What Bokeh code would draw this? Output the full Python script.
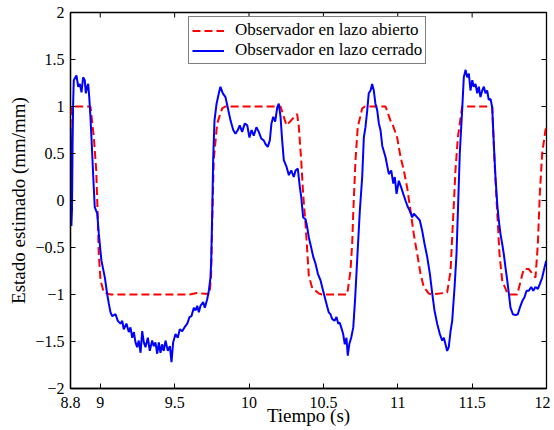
import math
from bokeh.plotting import figure
from bokeh.models import FixedTicker, Legend, LegendItem, Range1d
from bokeh.embed import file_html
from bokeh.resources import INLINE

# ---- data ----
x_ticks = [8.8, 9, 9.5, 10, 10.5, 11, 11.5, 12]
x_tick_labels = ["8.8", "9", "9.5", "10", "10.5", "11", "11.5", "12"]
y_ticks = [-2, -1.5, -1, -0.5, 0, 0.5, 1, 1.5, 2]
y_tick_labels = ["\u22122", "\u22121.5", "\u22121", "\u22120.5", "0", "0.5", "1", "1.5", "2"]

series_names = ["Observador en lazo abierto", "Observador en lazo cerrado"]

open_loop = [
    (8.800, 0.78), (8.805, 0.97), (8.810, 1.00), (8.934, 1.00), (8.957, 0.67),
    (8.973, 0.32), (8.984, -0.21), (8.990, -0.57), (9.002, -0.85), (9.024, -0.98),
    (9.070, -1.00), (9.600, -1.00), (9.650, -0.985), (9.735, -0.995), (9.745, -0.80),
    (9.752, -0.28), (9.763, 0.43), (9.786, 0.82), (9.820, 0.98), (9.840, 1.00),
    (10.212, 1.00), (10.252, 0.80), (10.324, 0.92), (10.335, 0.78), (10.351, 0.43),
    (10.364, 0.07), (10.380, -0.25), (10.391, -0.52), (10.402, -0.80), (10.425, -0.93),
    (10.470, -0.99), (10.490, -1.00), (10.660, -1.00), (10.682, -0.75), (10.694, -0.45),
    (10.701, -0.12), (10.716, 0.43), (10.731, 0.78), (10.761, 0.98), (10.780, 1.00),
    (10.918, 1.00), (10.951, 0.85), (10.963, 0.82), (10.996, 0.67), (11.019, 0.46),
    (11.041, 0.32), (11.063, 0.14), (11.086, -0.11), (11.108, -0.36), (11.131, -0.57),
    (11.153, -0.78), (11.175, -0.92), (11.209, -0.99), (11.230, -1.00), (11.332, -0.98),
    (11.355, -0.75), (11.366, -0.39), (11.377, -0.04), (11.388, 0.32), (11.404, 0.67),
    (11.433, 1.00), (11.635, 1.00), (11.650, 0.43), (11.668, -0.11), (11.684, -0.57),
    (11.702, -0.85), (11.740, -1.00), (11.803, -1.00), (11.847, -0.73), (11.881, -0.73),
    (11.926, -0.82), (11.942, -0.46), (11.955, 0.07), (11.971, 0.50), (11.993, 0.75),
    (12.000, 0.78),
]

closed_loop = [
    (8.800, 0.78), (8.803, 0.20), (8.806, -0.27), (8.810, -0.10), (8.814, 0.60),
    (8.818, 1.05), (8.822, 1.28), (8.840, 1.33), (8.852, 1.21), (8.863, 1.24),
    (8.874, 1.15), (8.885, 1.31), (8.896, 1.28), (8.903, 1.14), (8.912, 1.21),
    (8.919, 1.24), (8.926, 1.10), (8.934, 0.89), (8.943, 0.60), (8.953, 0.25),
    (8.963, -0.07), (8.980, -0.14), (8.990, -0.35), (9.008, -0.64), (9.031, -0.82),
    (9.047, -1.00), (9.058, -1.10), (9.069, -1.19), (9.080, -1.23), (9.103, -1.21),
    (9.118, -1.28), (9.136, -1.31), (9.148, -1.28), (9.158, -1.37), (9.176, -1.31),
    (9.192, -1.40), (9.203, -1.35), (9.215, -1.46), (9.226, -1.40), (9.237, -1.51),
    (9.248, -1.56), (9.259, -1.49), (9.271, -1.62), (9.282, -1.39), (9.293, -1.51),
    (9.304, -1.56), (9.320, -1.46), (9.333, -1.60), (9.349, -1.49), (9.360, -1.55),
    (9.371, -1.51), (9.383, -1.63), (9.394, -1.51), (9.405, -1.62), (9.416, -1.53),
    (9.427, -1.60), (9.439, -1.49), (9.454, -1.60), (9.468, -1.55), (9.479, -1.72),
    (9.490, -1.51), (9.506, -1.42), (9.521, -1.46), (9.535, -1.37), (9.551, -1.39),
    (9.566, -1.35), (9.585, -1.31), (9.600, -1.24), (9.613, -1.23), (9.629, -1.14),
    (9.640, -1.17), (9.652, -1.12), (9.663, -1.19), (9.674, -1.12), (9.692, -1.08),
    (9.703, -1.14), (9.719, -1.05), (9.730, -0.96), (9.741, -0.82), (9.746, -0.64),
    (9.753, -0.11), (9.759, 0.43), (9.768, 0.85), (9.782, 1.03), (9.797, 1.14),
    (9.808, 1.21), (9.824, 1.14), (9.842, 1.10), (9.857, 0.99), (9.876, 0.85),
    (9.894, 0.75), (9.909, 0.71), (9.925, 0.75), (9.938, 0.80), (9.954, 0.73),
    (9.972, 0.82), (9.988, 0.80), (10.003, 0.67), (10.017, 0.75), (10.032, 0.69),
    (10.050, 0.78), (10.066, 0.73), (10.082, 0.66), (10.099, 0.64), (10.111, 0.60),
    (10.126, 0.57), (10.140, 0.64), (10.151, 0.82), (10.163, 0.89), (10.176, 0.84),
    (10.190, 0.99), (10.200, 1.03), (10.212, 0.89), (10.223, 0.64), (10.234, 0.43),
    (10.252, 0.36), (10.268, 0.27), (10.284, 0.32), (10.301, 0.25), (10.313, 0.32),
    (10.328, 0.34), (10.342, 0.14), (10.351, 0.04), (10.364, -0.18), (10.380, -0.20),
    (10.391, -0.28), (10.402, -0.39), (10.418, -0.50), (10.432, -0.60), (10.447, -0.67),
    (10.463, -0.78), (10.481, -0.85), (10.492, -0.92), (10.503, -0.99), (10.521, -1.10),
    (10.536, -1.19), (10.548, -1.21), (10.559, -1.26), (10.575, -1.28), (10.588, -1.24),
    (10.600, -1.31), (10.610, -1.30), (10.620, -1.35), (10.633, -1.42), (10.644, -1.53),
    (10.655, -1.46), (10.664, -1.65), (10.674, -1.53), (10.687, -1.46), (10.701, -1.35),
    (10.714, -1.03), (10.727, -0.64), (10.745, -0.11), (10.761, 0.25), (10.772, 0.67),
    (10.783, 0.78), (10.795, 0.96), (10.805, 1.14), (10.817, 1.17), (10.828, 1.24),
    (10.839, 1.17), (10.850, 1.03), (10.862, 0.96), (10.873, 0.82), (10.884, 0.75),
    (10.896, 0.58), (10.918, 0.46), (10.940, 0.28), (10.956, 0.32), (10.970, 0.18),
    (10.980, 0.25), (10.992, 0.07), (11.007, 0.21), (11.023, 0.14), (11.037, 0.07),
    (11.052, 0.00), (11.068, -0.07), (11.081, -0.11), (11.097, -0.18), (11.108, -0.14),
    (11.131, -0.18), (11.148, -0.21), (11.164, -0.32), (11.180, -0.46), (11.198, -0.60),
    (11.216, -0.78), (11.232, -0.99), (11.247, -1.17), (11.265, -1.31), (11.283, -1.42),
    (11.299, -1.49), (11.310, -1.46), (11.321, -1.53), (11.332, -1.60), (11.343, -1.56),
    (11.355, -1.39), (11.366, -1.28), (11.382, -0.92), (11.395, -0.57), (11.406, -0.04),
    (11.417, 0.50), (11.433, 0.96), (11.444, 1.31), (11.456, 1.39), (11.467, 1.31),
    (11.478, 1.35), (11.489, 1.17), (11.501, 1.28), (11.511, 1.21), (11.523, 1.24),
    (11.534, 1.14), (11.545, 1.21), (11.556, 1.10), (11.568, 1.17), (11.579, 1.21),
    (11.590, 1.14), (11.601, 1.17), (11.612, 1.07), (11.624, 1.08), (11.635, 0.99),
    (11.646, 0.60), (11.657, 0.25), (11.669, -0.04), (11.679, -0.21), (11.691, -0.36),
    (11.702, -0.46), (11.713, -0.57), (11.724, -0.71), (11.736, -0.85), (11.747, -0.99),
    (11.758, -1.14), (11.774, -1.21), (11.792, -1.22), (11.807, -1.21), (11.821, -1.14),
    (11.837, -1.07), (11.852, -1.03), (11.866, -0.96), (11.881, -0.96), (11.897, -0.92),
    (11.911, -0.96), (11.926, -0.92), (11.942, -0.94), (11.955, -0.89), (11.971, -0.82),
    (11.987, -0.71), (11.998, -0.64),
]

FONT = "Liberation Serif"
X0, X1 = x_ticks[0], x_ticks[-1]
Y0, Y1 = y_ticks[0], y_ticks[-1]

p = figure(width=550, height=430, output_backend="svg", toolbar_location=None,
           x_range=Range1d(X0, X1), y_range=Range1d(Y0, Y1),
           min_border_left=70, min_border_right=4, min_border_top=12, min_border_bottom=42,
           x_axis_label="Tiempo (s)", y_axis_label="Estado estimado (mm/mm)")
p.grid.visible = False
p.outline_line_color = "black"
p.outline_line_width = 1.3
p.background_fill_color = "white"
p.border_fill_color = "white"

def style_axis(ax, ticks, labels):
    ax.ticker = FixedTicker(ticks=ticks)
    ax.major_tick_in = 5
    ax.major_tick_out = 0
    ax.minor_tick_line_color = None
    ax.axis_line_color = "black"
    ax.axis_line_width = 1.3
    ax.major_tick_line_color = "black"
    ax.major_tick_line_width = 1
    ax.major_label_text_font = FONT
    ax.major_label_text_color = "black"
    ax.major_label_text_font_size = "16px"
    ax.axis_label_text_font = FONT
    ax.axis_label_text_font_style = "normal"
    ax.axis_label_text_color = "black"
    ax.axis_label_text_font_size = "19px"
    ax.major_label_overrides = {t: l for t, l in zip(ticks, labels)}

xa = p.xaxis[0]
style_axis(xa, x_ticks, x_tick_labels)
xa.major_label_standoff = 8
xa.axis_label_standoff = -6

ya = p.yaxis[0]
style_axis(ya, y_ticks, y_tick_labels)
ya.major_label_standoff = 6
ya.axis_label_standoff = 3

# inward tick marks on the top and right edges of the box
p.ray(x=x_ticks, y=[Y1] * len(x_ticks), length=5, length_units="screen",
      angle=-math.pi / 2, line_color="black", line_width=1)
p.ray(x=[X1] * len(y_ticks), y=y_ticks, length=5, length_units="screen",
      angle=math.pi, line_color="black", line_width=1)

r_open = p.line([t for t, _ in open_loop], [v for _, v in open_loop],
                line_color="#ff0000", line_width=2, line_dash="8 4")
r_closed = p.line([t for t, _ in closed_loop], [v for _, v in closed_loop],
                  line_color="#0000ff", line_width=2)

legend = Legend(items=[LegendItem(label=series_names[0], renderers=[r_open]),
                       LegendItem(label=series_names[1], renderers=[r_closed])],
                location=(118, 324))
legend.label_text_font = FONT
legend.label_text_font_size = "17px"
legend.label_text_color = "black"
legend.label_height = 17
legend.glyph_height = 17
legend.glyph_width = 32
legend.label_standoff = 11
legend.spacing = 0
legend.padding = 3
legend.margin = 0
legend.border_line_color = "black"
legend.border_line_width = 1
legend.background_fill_alpha = 1
p.add_layout(legend, "center")

open("out.html", "w").write(file_html(p, INLINE))
